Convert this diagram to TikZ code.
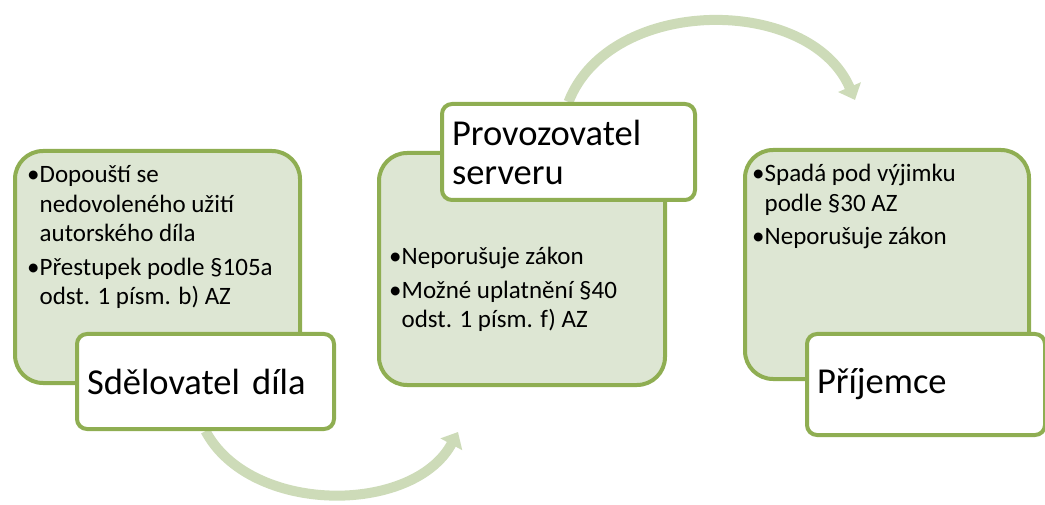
\documentclass[tikz,border=0pt]{standalone}
\usepackage{fontspec}
\setmainfont{Carlito}
\usepackage{tikz}
\usetikzlibrary{arrows.meta}
\usetikzlibrary{backgrounds}
\definecolor{panelfill}{HTML}{DDE6D3}
\definecolor{panelline}{HTML}{8FAE52}
\definecolor{arrowgreen}{HTML}{CDDBB8}

\begin{document}
\begin{tikzpicture}[x=1pt, y=-1pt,
panel/.style = {draw=panelline, line width=4pt, fill=panelfill, rounded corners=28pt, anchor=north west, inner sep=0pt},
  tag/.style = {draw=panelline, line width=4pt, fill=white, rounded corners=10pt, anchor=north west,
    inner xsep=10pt, inner ysep=0pt, align=left, font=\fontsize{36.5}{39}\selectfont},
  bullets/.style = {anchor=base west, inner sep=0pt, font=\fontsize{25}{29.5}\selectfont},
  flow/.style = {draw=arrowgreen, line width=10pt, -{Triangle[width=24pt,length=14pt]}}
]
\useasboundingbox (0,0) rectangle (1045,505);

% green panels
\node[panel, minimum width=285pt, minimum height=232pt] (box1) at (13,149) {};
\node[panel, minimum width=286pt, minimum height=232pt] (box2) at (377,151) {};
\node[panel, minimum width=284pt, minimum height=229pt] (box3) at (743,148) {};

\node[bullets] (txt1) at (27,183) {\begin{tabular}[t]{@{}l@{}l@{}}
  •&Dopouští se\\ &nedovoleného užití\\ &autorského díla\\[4pt]
  •&Přestupek podle §105a\\ &odst. 1 písm. b) AZ\end{tabular}};
\node[bullets] (txt2) at (389,265) {\begin{tabular}[t]{@{}l@{}l@{}}
  •&Neporušuje zákon\\[4pt]
  •&Možné uplatnění §40\\ &odst. 1 písm. f) AZ\end{tabular}};
\node[bullets] (txt3) at (752,182) {\begin{tabular}[t]{@{}l@{}l@{}}
  •&Spadá pod výjimku\\ &podle §30 AZ\\[4pt]
  •&Neporušuje zákon\end{tabular}};

% white labels
\node[tag, minimum width=257pt, minimum height=95pt, text width=237pt] (lab1) at (75,332) {Sdělovatel díla};
\node[tag, minimum width=253pt, minimum height=96pt, text width=233pt] (lab2) at (440,102) {Provozovatel\\serveru};
\node[tag, minimum width=238pt, minimum height=101pt, text width=218pt] (lab3) at (805,332) {Příjemce};

\coordinate (turn1) at (458,432);
\coordinate (turn2) at (855,100);

\begin{pgfonlayer}{background}
\draw[flow] (lab1.south) .. controls (250,515) and (413,515) .. (turn1);
\draw[flow] (lab2.north) .. controls (610,-5) and (810,-5) .. (turn2);
\end{pgfonlayer}
\end{tikzpicture}
\end{document}
